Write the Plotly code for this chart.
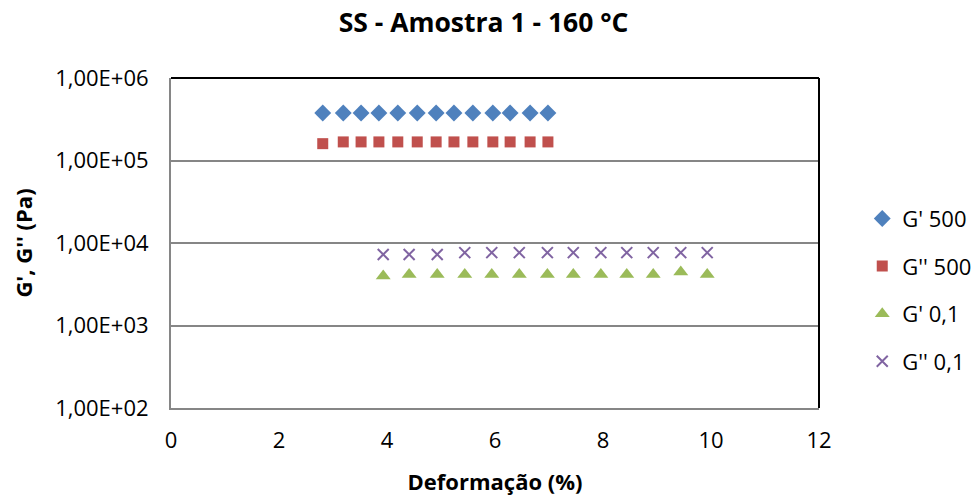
import plotly.graph_objects as go

# Data
x_500 = [2.81, 3.19, 3.52, 3.85, 4.20, 4.56, 4.91, 5.24, 5.59, 5.96, 6.28, 6.65, 6.98]
gp_500 = [3.77e5, 3.77e5, 3.77e5, 3.77e5, 3.77e5, 3.77e5, 3.77e5, 3.77e5, 3.77e5, 3.77e5, 3.77e5, 3.77e5, 3.77e5]
gpp_500 = [1.60e5, 1.68e5, 1.68e5, 1.68e5, 1.68e5, 1.68e5, 1.68e5, 1.68e5, 1.68e5, 1.68e5, 1.68e5, 1.68e5, 1.68e5]

x_01 = [3.93, 4.41, 4.93, 5.44, 5.94, 6.45, 6.97, 7.45, 7.96, 8.44, 8.93, 9.44, 9.93]
gp_01 = [3.98e3, 4.14e3, 4.14e3, 4.14e3, 4.14e3, 4.14e3, 4.14e3, 4.14e3, 4.14e3, 4.14e3, 4.14e3, 4.45e3, 4.14e3]
gpp_01 = [7.27e3, 7.27e3, 7.27e3, 7.65e3, 7.65e3, 7.65e3, 7.65e3, 7.65e3, 7.65e3, 7.65e3, 7.65e3, 7.65e3, 7.65e3]

y_tickvals = [1e2, 1e3, 1e4, 1e5, 1e6]
y_ticktext = ["1,00E+02", "1,00E+03", "1,00E+04", "1,00E+05", "1,00E+06"]
x_tickvals = [0, 2, 4, 6, 8, 10, 12]

FONT = "Open Sans"

fig = go.Figure()
fig.add_trace(go.Scatter(x=x_500, y=gp_500, mode="markers", name="G' 500", legendgroup="a",
                         marker=dict(symbol="diamond", size=13, color="#4F81BD")))
fig.add_trace(go.Scatter(x=x_500, y=gpp_500, mode="markers", name="G'' 500", legendgroup="b",
                         marker=dict(symbol="square", size=11, color="#C0504D")))
fig.add_trace(go.Scatter(x=x_01, y=gp_01, mode="markers", name="G' 0,1", legendgroup="c",
                         marker=dict(symbol="triangle-up", size=13, color="#9BBB59")))
fig.add_trace(go.Scatter(x=x_01, y=gpp_01, mode="markers", name="G'' 0,1", legendgroup="d",
                         marker=dict(symbol="x-thin", size=11, color="#8064A2",
                                     line=dict(width=2, color="#8064A2"))))

fig.update_layout(
    width=971, height=496,
    margin=dict(l=171, r=152, t=78, b=88, autoexpand=False),
    paper_bgcolor="white", plot_bgcolor="white",
    font=dict(family=FONT, size=22, color="black"),
    title=dict(text="<b>SS - Amostra 1 - 160 °C</b>", x=0.498, xanchor="center",
               y=0.955, yanchor="middle", font=dict(family=FONT, size=26.5, color="black")),
    showlegend=True,
    legend=dict(xref="container", yref="container", x=0.888, xanchor="left",
                y=0.415, yanchor="middle",
                traceorder="grouped", tracegroupgap=16,
                font=dict(family=FONT, size=22, color="black"),
                bgcolor="rgba(0,0,0,0)"),
    xaxis=dict(range=[0, 12], tickvals=x_tickvals, showgrid=False, zeroline=False,
               showline=True, linecolor="#868686", linewidth=2, ticks="",
               automargin=False,
               ticklabelstandoff=12, tickfont=dict(size=22),
               title=dict(text="<b>Deformação (%)</b>", font=dict(family=FONT, size=22), standoff=21)),
    yaxis=dict(type="log", range=[2, 6], tickvals=y_tickvals, ticktext=y_ticktext,
               showgrid=True, gridcolor="#868686", gridwidth=1.5, zeroline=False,
               showline=True, linecolor="#868686", linewidth=2, ticks="",
               automargin=False,
               ticklabelstandoff=16, tickfont=dict(size=22),
               title=dict(text="<b>G', G'' (Pa)</b>", font=dict(family=FONT, size=22), standoff=16)),
    shapes=[
        dict(type="line", xref="paper", yref="paper", x0=0, x1=1, y0=1, y1=1,
             line=dict(color="black", width=2)),
        dict(type="line", xref="paper", yref="paper", x0=1, x1=1, y0=0, y1=1,
             line=dict(color="black", width=2)),
    ],
)

fig.write_html("out.html")
